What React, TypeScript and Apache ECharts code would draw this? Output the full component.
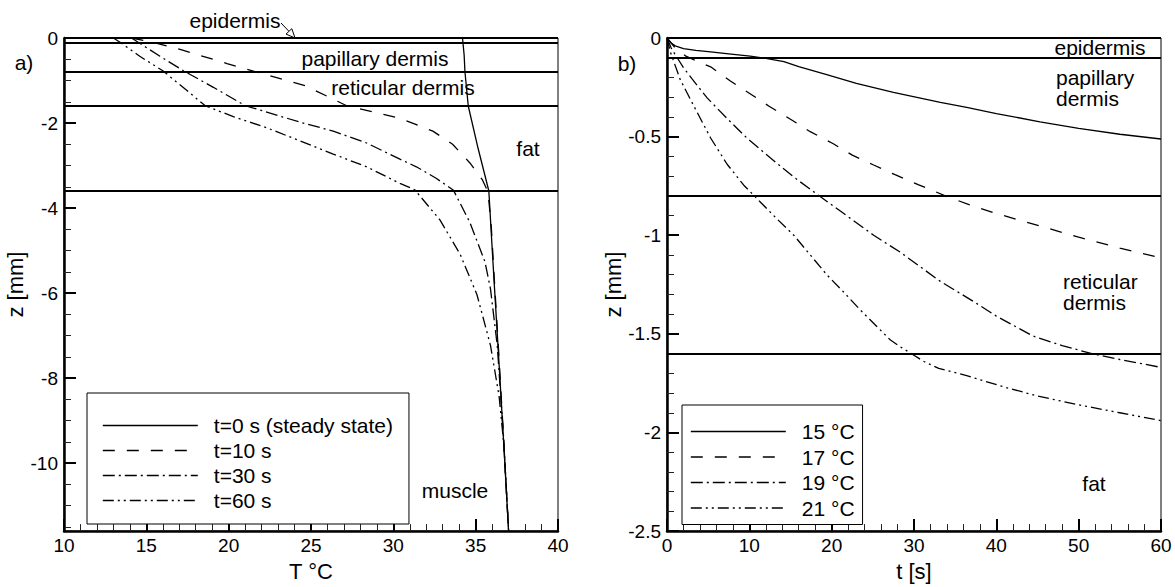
import React, { useEffect, useRef } from "react";
import * as echarts from "echarts";

const FONT = '"Liberation Sans", Arial, Helvetica, sans-serif';

// ---------- Panel a) : temperature profiles, pairs [T (°C), z (mm)] ----------
const profileSteady: number[][] = [
  [34.2, 0], [34.3, -0.4], [34.35, -0.8], [34.55, -1.6], [35.15, -2.6], [35.8, -3.6],
  [36.1, -5.6], [36.38, -7.4], [36.69, -9.45], [37.0, -11.6],
];
const profile10s: number[][] = [
  [14.1, 0], [15.5, -0.11], [17.15, -0.28], [19.9, -0.6], [21.7, -0.8], [24.7, -1.13],
  [27.2, -1.6], [28.8, -1.74], [30.2, -1.87], [31.0, -1.98], [32.4, -2.19], [33.6, -2.5],
  [34.65, -2.94], [35.4, -3.33], [35.75, -3.62], [35.95, -4.45], [36.12, -5.6],
  [36.4, -7.4], [36.7, -9.45], [37.0, -11.6],
];
const profile30s: number[][] = [
  [14.1, 0], [14.5, -0.1], [15.83, -0.43], [17.25, -0.77], [19.07, -1.16], [21.0, -1.59],
  [24.33, -1.98], [26.35, -2.19], [28.38, -2.47], [30.4, -2.85], [31.4, -3.03],
  [32.6, -3.3], [33.65, -3.58], [34.65, -4.34], [35.56, -5.26], [35.9, -5.9],
  [36.31, -7.23], [36.68, -9.3], [37.0, -11.6],
];
const profile60s: number[][] = [
  [13.0, 0], [13.4, -0.1], [14.6, -0.43], [16.0, -0.77], [17.45, -1.23], [18.56, -1.59],
  [20.28, -1.85], [22.3, -2.11], [24.33, -2.42], [26.35, -2.73], [28.38, -3.03],
  [30.4, -3.42], [31.3, -3.57], [32.83, -4.28], [34.06, -5.09], [35.08, -6.04],
  [35.9, -7.23], [36.42, -8.42], [36.72, -9.6], [37.0, -11.6],
];
const profileNames = ["t=0 s (steady state)", "t=10 s", "t=30 s", "t=60 s"];
const layerBoundsA = [0, -0.1, -0.8, -1.6, -3.6];
const zTicksA = [0, -2, -4, -6, -8, -10];
const zMinorTicksA = [
  -0.5, -1, -1.5, -2.5, -3, -3.5, -4.5, -5, -5.5, -6.5, -7, -7.5, -8.5, -9, -9.5, -10.5, -11, -11.5,
];

// ---------- Panel b) : isotherm depth vs time, pairs [t (s), z (mm)] ----------
const front15: number[][] = [
  [0, 0], [0.5, -0.025], [1, -0.04], [2, -0.054], [3.5, -0.063], [5.3, -0.07], [7.5, -0.08],
  [10.1, -0.092], [12, -0.103], [14.2, -0.12], [16, -0.145], [19.4, -0.186], [23, -0.23],
  [27.5, -0.276], [33.2, -0.326], [36.4, -0.352], [40, -0.383], [45.3, -0.425], [50, -0.458],
  [55, -0.488], [60, -0.512],
];
const front17: number[][] = [
  [0, 0], [1, -0.05], [2.3, -0.092], [3.5, -0.115], [5.3, -0.146], [7.7, -0.218], [10, -0.28],
  [12.4, -0.346], [15, -0.412], [17.4, -0.475], [20.2, -0.536], [22.5, -0.594], [25.1, -0.644],
  [27.7, -0.693], [30.5, -0.743], [33.8, -0.8], [37, -0.85], [40, -0.89], [45.3, -0.953],
  [50, -1.01], [55, -1.065], [60, -1.115],
];
const front19: number[][] = [
  [0, 0], [0.5, -0.05], [1, -0.085], [2, -0.15], [3, -0.205], [4.9, -0.305], [7.3, -0.408],
  [9.7, -0.507], [12.5, -0.606], [15.4, -0.705], [18.6, -0.804], [21.9, -0.903], [25.1, -1.0],
  [28.3, -1.085], [33.2, -1.234], [37, -1.33], [40, -1.41], [44.4, -1.51], [48, -1.56],
  [51.6, -1.6], [55, -1.63], [60, -1.67],
];
const front21: number[][] = [
  [0, 0], [0.4, -0.07], [1.6, -0.21], [3.2, -0.34], [5.3, -0.507], [7.3, -0.64], [9.3, -0.745],
  [11.3, -0.83], [13.3, -0.915], [15.4, -1.0], [17.4, -1.1], [19.4, -1.2], [21.5, -1.29],
  [23.5, -1.38], [25.3, -1.455], [27.1, -1.53], [28.5, -1.57], [29.8, -1.603], [31.2, -1.64],
  [33, -1.675], [36.4, -1.712], [41, -1.77], [45, -1.815], [50, -1.86], [55, -1.9], [60, -1.94],
];
const frontNames = ["15 °C", "17 °C", "19 °C", "21 °C"];
const layerBoundsB = [0, -0.1, -0.8, -1.6];

const dashStyles: any[] = ["solid", [12, 12], [12, 4, 2, 4], [11, 4, 2, 4, 2, 4]];

export default function App() {
  const ref = useRef<HTMLDivElement>(null);

  useEffect(() => {
    if (!ref.current) return;
    const chart = echarts.init(ref.current, null, { renderer: "svg" });

    const tickLabel = { color: "#000", fontFamily: FONT, fontSize: 19 };
    const nameStyle = { color: "#000", fontFamily: FONT, fontSize: 22 };
    const axisLine = { show: true, onZero: false, lineStyle: { color: "#000", width: 2.5 } };
    const majorTick = { show: true, inside: true, length: 12, lineStyle: { color: "#000", width: 2 } };
    const minorTick = { show: true, splitNumber: 5, length: 7, lineStyle: { color: "#222", width: 1 } };

    const mkLine = (name: string, data: number[][], dash: any, xi: number, yi: number, bounds?: number[]) => ({
      type: "line",
      name,
      data,
      xAxisIndex: xi,
      yAxisIndex: yi,
      symbol: "none",
      showSymbol: false,
      silent: true,
      z: 3,
      lineStyle: { color: "#000", width: 1.3, type: dash },
      itemStyle: { color: "#000" },
      emphasis: { disabled: true },
      markLine: bounds
        ? {
            silent: true,
            symbol: ["none", "none"],
            label: { show: false },
            lineStyle: { color: "#000", width: 2, type: "solid" },
            data: bounds.map((v) => ({ yAxis: v })),
          }
        : undefined,
    });

    const profiles = [profileSteady, profile10s, profile30s, profile60s];
    const fronts = [front15, front17, front19, front21];

    const series: any[] = [
      ...profiles.map((d, i) => mkLine(profileNames[i], d, dashStyles[i], 0, 0, i === 0 ? layerBoundsA : undefined)),
      ...fronts.map((d, i) => mkLine(frontNames[i], d, dashStyles[i], 1, 2, i === 0 ? layerBoundsB : undefined)),
    ];

    const legendBase = {
      orient: "vertical",
      selectedMode: false,
      itemWidth: 95,
      itemHeight: 14,
      borderColor: "#000",
      borderWidth: 1,
      backgroundColor: "#fff",
      lineStyle: { width: 1.6 },
      itemStyle: { color: "rgba(0,0,0,0)", borderColor: "rgba(0,0,0,0)", borderWidth: 0, opacity: 0 },
      textStyle: { color: "#000", fontFamily: FONT, fontSize: 21, padding: [0, 0, 0, 11] },
    };

    const txt = (text: string, x: number, y: number, align = "center", extra: any = {}) => ({
      type: "text",
      x,
      y,
      silent: true,
      z: 10,
      style: {
        text,
        fill: "#000",
        fontFamily: FONT,
        fontSize: 21,
        align,
        verticalAlign: "middle",
        ...extra,
      },
    });

    chart.setOption({
      animation: false,
      backgroundColor: "#fff",
      grid: [
        { left: 64, top: 38, width: 494, height: 505, show: true, borderColor: "#000", borderWidth: 1, backgroundColor: "transparent" },
        { left: 667, top: 38, width: 494, height: 505, show: true, borderColor: "#000", borderWidth: 1, backgroundColor: "transparent" },
      ],
      xAxis: [
        {
          type: "value", gridIndex: 0, min: 10, max: 40, interval: 5, position: "bottom",
          name: "T °C", nameLocation: "middle", nameGap: 23, nameTextStyle: nameStyle,
          axisLine, axisTick: majorTick, minorTick,
          axisLabel: { ...tickLabel, margin: 5 },
          splitLine: { show: false },
        },
        {
          type: "value", gridIndex: 1, min: 0, max: 60, interval: 10, position: "bottom",
          name: "t [s]", nameLocation: "middle", nameGap: 23, nameTextStyle: nameStyle,
          axisLine, axisTick: majorTick, minorTick,
          axisLabel: { ...tickLabel, margin: 5 },
          splitLine: { show: false },
        },
      ],
      yAxis: [
        {
          type: "value", gridIndex: 0, min: -11.6, max: 0, position: "left",
          name: "z [mm]", nameLocation: "middle", nameGap: 34, nameRotate: 90, nameTextStyle: nameStyle,
          axisLine,
          axisTick: { ...majorTick, customValues: zTicksA },
          axisLabel: { ...tickLabel, margin: 6, customValues: zTicksA },
          splitLine: { show: false },
        },
        {
          type: "value", gridIndex: 0, min: -11.6, max: 0, position: "left",
          axisLine: { show: false, onZero: false },
          axisTick: { show: true, inside: true, length: 7, lineStyle: { color: "#222", width: 1 }, customValues: zMinorTicksA },
          axisLabel: { show: false },
          splitLine: { show: false },
        },
        {
          type: "value", gridIndex: 1, min: -2.5, max: 0, interval: 0.5, position: "left",
          name: "z [mm]", nameLocation: "middle", nameGap: 34, nameRotate: 90, nameTextStyle: nameStyle,
          axisLine, axisTick: majorTick, minorTick,
          axisLabel: { ...tickLabel, margin: 6 },
          splitLine: { show: false },
        },
      ],
      legend: [
        { ...legendBase, data: profileNames, left: 87, top: 393, itemGap: 4, padding: [22, 16, 13, 15] },
        { ...legendBase, data: frontNames, left: 682, top: 405, itemGap: 4.5, padding: [16, 8, 6, 8] },
      ],
      series,
      graphic: [
        txt("a)", 24, 62),
        txt("b)", 627, 63),
        txt("epidermis", 235, 20),
        { type: "line", silent: true, z: 10, shape: { x1: 281, y1: 23, x2: 289, y2: 31.4 }, style: { stroke: "#000", lineWidth: 1 } },
        {
          type: "polygon", silent: true, z: 10,
          shape: { points: [[295, 38], [286, 34.1], [291.8, 28.7]] },
          style: { stroke: "#000", fill: "#fff", lineWidth: 1 },
        },
        txt("papillary dermis", 375, 58),
        txt("reticular dermis", 403, 87),
        txt("fat", 528, 148),
        txt("muscle", 455, 490),
        txt("epidermis", 1100, 47),
        txt("papillary\ndermis", 1056, 88, "left", { lineHeight: 21 }),
        txt("reticular\ndermis", 1063, 292, "left", { lineHeight: 21 }),
        txt("fat", 1094, 483),
      ],
    });

    return () => chart.dispose();
  }, []);

  return (
    <div
      ref={ref}
      style={{ position: "absolute", left: 0, top: 0, width: 1175, height: 587 }}
    />
  );
}
